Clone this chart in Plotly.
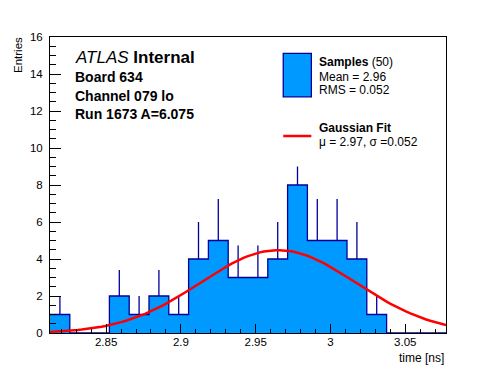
import math
import plotly.graph_objects as go

# ---- data ----
x_min = 2.8125
x_max = 3.0772
n_bins = 20
counts = [1, 0, 0, 2, 1, 2, 1, 4, 5, 3, 3, 4, 8, 5, 5, 4, 1, 0, 0, 0]
err_up = [1, 0, 0, 1.41, 1, 1.41, 1, 2, 2.24, 1.73, 1.73, 2, 1, 2.24, 2.24, 2, 1, 0, 0, 0]
fit_amp = 4.48
fit_mu = 2.965
fit_sigma = 0.052
fit_npx = 100
x_ticks = [2.85, 2.9, 2.95, 3.0, 3.05]
x_tick_labels = ["2.85", "2.9", "2.95", "3", "3.05"]
y_ticks = [0, 2, 4, 6, 8, 10, 12, 14, 16]

FILL = "#0099ff"
EDGE = "#000099"
FONT = "Liberation Sans, Arial, Helvetica, sans-serif"

bw = (x_max - x_min) / n_bins
edges = [x_min + i * bw for i in range(n_bins + 1)]
centers = [x_min + (i + 0.5) * bw for i in range(n_bins)]

fig = go.Figure()

# filled step histogram
fig.add_trace(go.Scatter(
    x=edges, y=counts + [counts[-1]], mode="lines", line_shape="hv",
    line=dict(color=EDGE, width=1.3), fill="tozeroy", fillcolor=FILL,
    hoverinfo="skip", showlegend=False))

# upper error bars
nz = [i for i, c in enumerate(counts) if c > 0]
fig.add_trace(go.Scatter(
    x=[centers[i] for i in nz], y=[counts[i] for i in nz], mode="markers",
    marker=dict(size=1, opacity=0),
    error_y=dict(type="data", array=[err_up[i] for i in nz],
                 arrayminus=[0] * len(nz), width=0, thickness=1.3, color=EDGE),
    showlegend=False, hoverinfo="skip"))

# gaussian fit curve (from the fit parameters)
fx = [x_min + (x_max - x_min) * k / fit_npx for k in range(fit_npx + 1)]
fy = [fit_amp * math.exp(-0.5 * ((v - fit_mu) / fit_sigma) ** 2) for v in fx]
fig.add_trace(go.Scatter(x=fx, y=fy, mode="lines",
                         line=dict(color="#ff0000", width=2.5),
                         showlegend=False, hoverinfo="skip"))

fig.update_layout(
    width=496, height=372,
    margin=dict(l=49.5, r=49.5, t=37, b=39),
    paper_bgcolor="white", plot_bgcolor="white",
    font=dict(family=FONT, size=11, color="black"),
    showlegend=False,
)
fig.update_xaxes(
    range=[x_min, x_max], tickvals=x_ticks, ticktext=x_tick_labels,
    ticks="inside", ticklen=9, tickcolor="black", tickwidth=1,
    minor=dict(dtick=0.01, tick0=2.85, ticks="inside", ticklen=4.5, tickcolor="black"),
    showline=True, linecolor="black", linewidth=1, mirror=True,
    showgrid=False, zeroline=False, tickfont=dict(size=11.5),
    ticklabelstandoff=-2,
)
fig.update_yaxes(
    range=[0, 16], tickvals=y_ticks,
    ticks="inside", ticklen=11, tickcolor="black", tickwidth=1,
    minor=dict(dtick=0.5, tick0=0, ticks="inside", ticklen=5.5, tickcolor="black"),
    showline=True, linecolor="black", linewidth=1, mirror=True,
    showgrid=False, zeroline=False, tickfont=dict(size=11.5),
    ticklabelstandoff=4,
)

def ann(text, x, y, size, xanchor="left", yanchor="middle", **kw):
    fig.add_annotation(text=text, x=x, y=y, xref="paper", yref="paper",
                       xanchor=xanchor, yanchor=yanchor, showarrow=False,
                       font=dict(family=FONT, size=size, color="black"), **kw)

# left labels
ann("<i>ATLAS</i> <b>Internal</b>", 0.058, 0.930, 17)
ann("<b>Board 634</b>", 0.058, 0.864, 14)
ann("<b>Channel 079 lo</b>", 0.058, 0.799, 14)
ann("<b>Run 1673 A=6.075</b>", 0.058, 0.739, 14)

# legend
fig.add_shape(type="rect", xref="paper", yref="paper",
              x0=0.589, x1=0.660, y0=0.798, y1=0.945,
              fillcolor=FILL, line=dict(color=EDGE, width=1.3))
fig.add_shape(type="line", xref="paper", yref="paper",
              x0=0.589, x1=0.660, y0=0.6655, y1=0.6655,
              line=dict(color="#ff0000", width=2.5))
ann("<b>Samples</b> (50)", 0.675, 0.914, 12)
ann("Mean = 2.96", 0.675, 0.866, 12)
ann("RMS = 0.052", 0.675, 0.820, 12)
ann("<b>Gaussian Fit</b>", 0.675, 0.692, 12)
ann("\u03bc = 2.97, \u03c3 =0.052", 0.675, 0.646, 12)

# axis titles
ann("time [ns]", 1.0, 0.0, 12, xanchor="right", yanchor="top", yshift=-16)
ann("Entries", 0.0, 1.0, 11.5, xanchor="right", yanchor="top", xshift=-24,
    yshift=2, textangle=-90)

fig.write_html("out.html", config={"displayModeBar": False},
               post_script="document.body.style.margin='0px';document.body.style.overflow='hidden';")
